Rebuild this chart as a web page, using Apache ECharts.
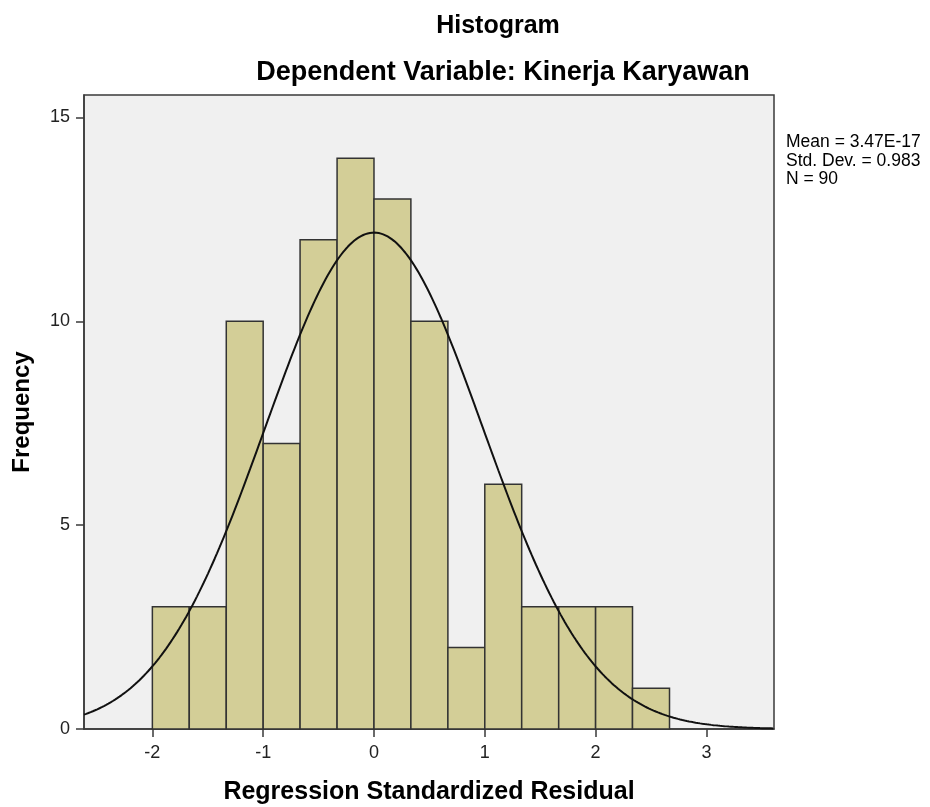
<!DOCTYPE html>
<html>
<head>
<meta charset="utf-8">
<script src="https://cdn.jsdelivr.net/npm/echarts@6/dist/echarts.min.js"></script>
<style>
  html, body { margin: 0; padding: 0; background: #fff; }
  #chart { width: 930px; height: 807px; }
</style>
</head>
<body>
<div id="chart"></div>
<script>
// histogram bins (lower edge, upper edge) and counts
const binLow = [-2, -1.667, -1.333, -1, -0.667, -0.333, 0, 0.333, 0.667, 1, 1.333, 1.667, 2, 2.333]
const binHigh = [-1.667, -1.333, -1, -0.667, -0.333, 0, 0.333, 0.667, 1, 1.333, 1.667, 2, 2.333, 2.667]
const counts = [3, 3, 10, 7, 12, 14, 13, 10, 2, 6, 3, 3, 3, 1]

const xTicks = [-2, -1, 0, 1, 2, 3]
const yTicks = [0, 5, 10, 15]

// summary stats shown in the chart (used for the normal curve)
const mean = 3.47e-17
const stdDev = 0.983
const n = 90
const binWidth = 1 / 3

const xMin = -2.617
const xMax = 3.61

const font = 'Liberation Sans, Arial, sans-serif'

const barData = counts.map((c, i) => [binLow[i], binHigh[i], c])

// fitted normal curve from mean / sd / N
const curve = []
for (let x = xMin; x <= xMax + 1e-9; x += 0.02) {
  const z = (x - mean) / stdDev
  const y = n * binWidth * Math.exp(-0.5 * z * z) / (stdDev * Math.sqrt(2 * Math.PI))
  curve.push([x, y])
}

const chart = echarts.init(document.getElementById('chart'))

const option = {
  animation: false,
  backgroundColor: '#fff',
  grid: {
    left: 84,
    right: 156,
    top: 95,
    bottom: 78,
    outerBoundsMode: 'none',
    show: true,
    backgroundColor: '#f0f0f0',
    borderColor: '#3a3a3a',
    borderWidth: 1.5
  },
  graphic: [
    {
      type: 'text', top: 14,
      style: {
        text: 'Histogram', font: 'bold 25px ' + font, fill: '#000',
        x: 498, textAlign: 'center'
      }
    },
    {
      type: 'text', top: 59,
      style: {
        text: 'Dependent Variable: Kinerja Karyawan', font: 'bold 27px ' + font, fill: '#000',
        x: 503, textAlign: 'center'
      }
    },
    {
      type: 'text', left: 786, top: 133,
      style: {
        text: 'Mean = 3.47E-17\nStd. Dev. = 0.983\nN = 90',
        font: '17.5px ' + font, fill: '#000', lineHeight: 18.5
      }
    }
  ],
  xAxis: {
    type: 'value',
    min: xMin,
    max: xMax,
    name: 'Regression Standardized Residual',
    nameLocation: 'middle',
    nameGap: 51,
    nameTextStyle: { fontFamily: font, fontWeight: 'bold', fontSize: 25, color: '#000' },
    axisLine: { show: true, onZero: false, lineStyle: { color: '#3a3a3a', width: 1.5 } },
    axisTick: { show: true, customValues: xTicks, length: 8, lineStyle: { color: '#3a3a3a', width: 1.5 } },
    axisLabel: {
      customValues: xTicks, fontFamily: font, fontSize: 18, color: '#222', margin: 15,
      showMinLabel: true, showMaxLabel: true
    },
    splitLine: { show: false }
  },
  yAxis: {
    type: 'value',
    min: 0,
    max: 15.55,
    name: 'Frequency',
    nameLocation: 'middle',
    nameGap: 50,
    nameTextStyle: { fontFamily: font, fontWeight: 'bold', fontSize: 24, color: '#000' },
    axisLine: { show: true, onZero: false, lineStyle: { color: '#3a3a3a', width: 1.5 } },
    axisTick: { show: true, customValues: yTicks, length: 8, lineStyle: { color: '#3a3a3a', width: 1.5 } },
    axisLabel: { customValues: yTicks, fontFamily: font, fontSize: 18, color: '#222', margin: 14 },
    splitLine: { show: false }
  },
  series: [
    {
      type: 'custom',
      data: barData,
      encode: { x: [0, 1], y: 2 },
      renderItem: function (params, api) {
        const p0 = api.coord([api.value(0), 0])
        const p1 = api.coord([api.value(1), api.value(2)])
        return {
          type: 'rect',
          shape: { x: p0[0], y: p1[1], width: p1[0] - p0[0], height: p0[1] - p1[1] },
          style: { fill: '#d3ce97', stroke: '#333', lineWidth: 1.5 }
        }
      },
      z: 2
    },
    {
      type: 'line',
      data: curve,
      showSymbol: false,
      smooth: false,
      lineStyle: { color: '#111', width: 2 },
      z: 3
    }
  ]
}

chart.setOption(option)
</script>
</body>
</html>
